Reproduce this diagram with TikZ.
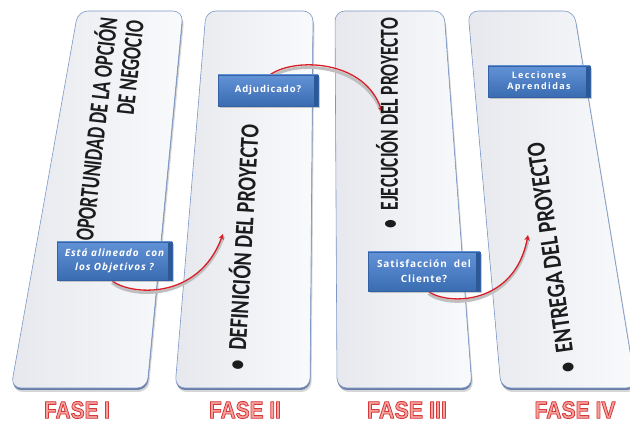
\documentclass[tikz,border=0pt]{standalone}
\usepackage{fontspec}
\setmainfont{Carlito}
\newfontfamily\boxfont[LetterSpace=9]{Open Sans}
\newfontfamily\fasefont{Liberation Sans}
\usetikzlibrary{arrows.meta}
\pgfdeclarelayer{back}
\pgfdeclarelayer{links}
\pgfsetlayers{back,links,main}

\definecolor{panelL}{RGB}{230,232,237}
\definecolor{panelR}{RGB}{249,250,252}
\definecolor{panelEdge}{RGB}{125,152,198}
\definecolor{panelBase}{RGB}{105,126,168}
\definecolor{boxTop}{RGB}{98,146,214}
\definecolor{boxBot}{RGB}{58,108,178}
\definecolor{boxSide}{RGB}{44,88,150}
\definecolor{boxEdge}{RGB}{52,98,165}
\definecolor{arrowRed}{RGB}{218,30,40}
\definecolor{faseFill}{RGB}{246,162,158}
\definecolor{ink}{RGB}{28,28,28}

% one slanted phase card: soft shadow, base band, shaded face
\newcommand\panel[4]{%
  \fill[black!16, rounded corners=10pt, shift={(1.5,4)}] #1 -- #2 -- #3 -- #4 -- cycle;
  \fill[panelBase, rounded corners=10pt, shift={(0.4,2)}] #1 -- #2 -- #3 -- #4 -- cycle;
  \draw[panelEdge, line width=.6pt, left color=panelL, right color=panelR,
        rounded corners=10pt] #1 -- #2 -- #3 -- #4 -- cycle;}

% lettering filled in pink and stroked in red (text render mode 2)
\newcommand\outlined[1]{{\color{faseFill}%
  \special{pdf:literal direct 0.84 0.22 0.22 RG 0.9 w 1 j 2 Tr}#1%
  \special{pdf:literal direct 0 Tr}}}

\tikzset{
  ptitle/.style={text=ink, inner sep=0pt, font=\bfseries\fontsize{26}{26.5}\selectfont},
  callout/.style={rectangle, draw=boxEdge, line width=.4pt,
    top color=boxTop, bottom color=boxBot, text=white, align=center,
    inner sep=0pt, font=\boxfont\bfseries\fontsize{10}{14}\selectfont,
    preaction={fill=black!45, opacity=.45,
      transform canvas={shift={(1.5pt,-2.5pt)}}},
    path picture={\fill[boxSide]
      ([xshift=-4pt]path picture bounding box.north east)
      rectangle (path picture bounding box.south east);}},
  faselabel/.style={inner sep=0pt,
    font=\fasefont\bfseries\fontsize{24}{24}\selectfont},
  link/.style={draw=arrowRed, line width=1.3pt,
    -{Stealth[length=5.5pt,width=5.5pt]}},
  linkshade/.style={draw=black!25, line width=3pt,
    transform canvas={shift={(0.5pt,-2.5pt)}}}
}

\begin{document}
\begin{tikzpicture}[x=1pt,y=-1pt]
\useasboundingbox (0,0) rectangle (630,430);

\begin{pgfonlayer}{back}
  \panel{(78,11)}{(183,11)}{(147,388)}{(11,388)}
  \panel{(206,11)}{(313,11)}{(310,388)}{(175,388)}
  \panel{(335,11)}{(444,11)}{(472,388)}{(337,388)}
  \panel{(468,11)}{(574,11)}{(636,388)}{(501,388)}
\end{pgfonlayer}

% card titles
\node[ptitle, rotate=83.6] (t1) at (111.5,131)
  {\resizebox{224pt}{\height}{\begin{tabular}{@{}r@{}}OPORTUNIDAD DE LA OPCIÓN\\DE NEGOCIO\end{tabular}}};
\node[ptitle, rotate=86.7, anchor=mid] (t2) at (249.5,248)
  {\resizebox{246pt}{\height}{•\hspace{0.5em}DEFINICIÓN DEL PROYECTO}};
\node[ptitle, rotate=90, anchor=mid] (t3) at (395.5,123)
  {\resizebox{210pt}{\height}{•\hspace{0.5em}EJECUCIÓN DEL PROYECTO}};
\node[ptitle, rotate=98, anchor=mid] (t4) at (557.5,257)
  {\resizebox{232pt}{\height}{•\hspace{0.5em}ENTREGA DEL PROYECTO}};

% decision boxes
\node[callout, minimum width=115pt, minimum height=38pt,
  font=\boxfont\bfseries\itshape\fontsize{10}{14}\selectfont]
  (b1) at (114.5,261) {Está alineado\ \ con\\los Objetivos ?};
\node[callout, minimum width=100pt, minimum height=31pt,
  font=\boxfont\bfseries\fontsize{9.5}{12}\selectfont]
  (b2) at (268,90.5) {Adjudicado?};
\node[callout, minimum width=112pt, minimum height=39pt,
  font=\boxfont\bfseries\fontsize{10}{15}\selectfont]
  (b3) at (424,271.5) {Satisfacción\ \ del\\Cliente?};
\node[callout, minimum width=102pt, minimum height=31pt,
  font=\boxfont\bfseries\addfontfeature{LetterSpace=15}\fontsize{9}{10.5}\selectfont]
  (b4) at (539,81.5) {Lecciones\\Aprendidas};

% arrow tips
\coordinate (tip1) at (223,234);
\coordinate (tip2) at (382,112);
\coordinate (tip3) at (528,235);

\begin{pgfonlayer}{links}
  \draw[linkshade] ([xshift=-3pt]b1.south) .. controls (128,295) and (198,302) .. (tip1);
  \draw[link] ([xshift=-3pt]b1.south) .. controls (128,295) and (198,302) .. (tip1);
  \draw[linkshade] ([xshift=2pt]b2.north) .. controls (295,57) and (365,60) .. (tip2);
  \draw[link] ([xshift=2pt]b2.north) .. controls (295,57) and (365,60) .. (tip2);
  \draw[linkshade] ([xshift=4pt]b3.south) .. controls (448,306) and (515,305) .. (tip3);
  \draw[link] ([xshift=4pt]b3.south) .. controls (448,306) and (515,305) .. (tip3);
\end{pgfonlayer}

% phase labels
\node[faselabel] (f1) at (77,410) {\resizebox{66pt}{\height}{\outlined{FASE I}}};
\node[faselabel] (f2) at (245,410) {\resizebox{72pt}{\height}{\outlined{FASE II}}};
\node[faselabel] (f3) at (407,410) {\resizebox{80pt}{\height}{\outlined{FASE III}}};
\node[faselabel] (f4) at (575,410) {\resizebox{81pt}{\height}{\outlined{FASE IV}}};
\end{tikzpicture}
\end{document}
